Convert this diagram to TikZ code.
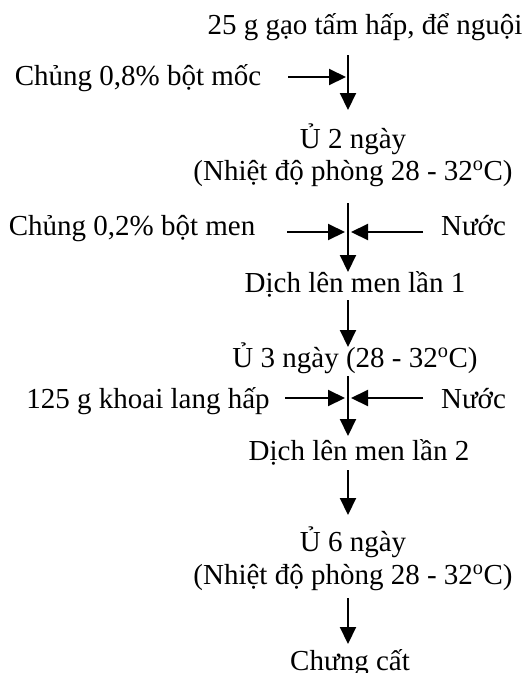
\documentclass[tikz,border=0pt]{standalone}
\usepackage{fontspec}
\setmainfont{Liberation Serif}
\usetikzlibrary{arrows.meta}
\tikzset{
  lbl/.style={inner sep=0pt, anchor=base, font=\fontsize{29}{33}\selectfont},
  arr/.style={line width=2.1pt, -{Triangle[length=17pt,width=16pt]}}
}
\begin{document}
\begin{tikzpicture}[x=1pt,y=-1pt]
\useasboundingbox[fill=white] (0,0) rectangle (526,673);
% texts
\node[lbl] (t1) at (365,34) {25 g gạo tấm hấp, để nguội};
\node[lbl] (c1) at (138,85) {Chủng 0,8\% bột mốc};
\node[lbl] (u2) at (353,148) {Ủ 2 ngày};
\node[lbl] (n1) at (353,180) {(Nhiệt độ phòng 28 - 32\textsuperscript{o}C)};
\node[lbl] (c2) at (132,235) {Chủng 0,2\% bột men};
\node[lbl] (w1) at (473.5,235) {Nước};
\node[lbl] (d1) at (355,292) {Dịch lên men lần 1};
\node[lbl] (u3) at (355,367) {Ủ 3 ngày (28 - 32\textsuperscript{o}C)};
\node[lbl] (k) at (148,408) {125 g khoai lang hấp};
\node[lbl] (w2) at (473.5,408) {Nước};
\node[lbl] (d2) at (359,460) {Dịch lên men lần 2};
\node[lbl] (u6) at (353,551) {Ủ 6 ngày};
\node[lbl] (n2) at (353,584) {(Nhiệt độ phòng 28 - 32\textsuperscript{o}C)};
\node[lbl] (cc) at (350,670) {Chưng cất};
% coordinates on the main axis
\coordinate (v1s) at (348,55);  \coordinate (v1e) at (348,110);
\coordinate (v2s) at (348,203); \coordinate (v2e) at (348,272);
\coordinate (v3s) at (348,300); \coordinate (v3e) at (348,347);
\coordinate (v4s) at (348,376); \coordinate (v4e) at (348,436);
\coordinate (v5s) at (348,470); \coordinate (v5e) at (348,515);
\coordinate (v6s) at (348,598); \coordinate (v6e) at (348,644);
% side arrows coordinates
\coordinate (h1s) at (288,77);  \coordinate (h1e) at (346,77);
\coordinate (h2s) at (287,232); \coordinate (h2e) at (345,232);
\coordinate (h3s) at (423,232); \coordinate (h3e) at (351,232);
\coordinate (h4s) at (285,398); \coordinate (h4e) at (345,398);
\coordinate (h5s) at (423,398); \coordinate (h5e) at (351,398);
% main arrows
\draw[arr] (v1s) -- (v1e);
\draw[arr] (v2s) -- (v2e);
\draw[arr] (v3s) -- (v3e);
\draw[arr] (v4s) -- (v4e);
\draw[arr] (v5s) -- (v5e);
\draw[arr] (v6s) -- (v6e);
% side arrows
\draw[arr] (h1s) -- (h1e);
\draw[arr] (h2s) -- (h2e);
\draw[arr] (h3s) -- (h3e);
\draw[arr] (h4s) -- (h4e);
\draw[arr] (h5s) -- (h5e);
\end{tikzpicture}
\end{document}
